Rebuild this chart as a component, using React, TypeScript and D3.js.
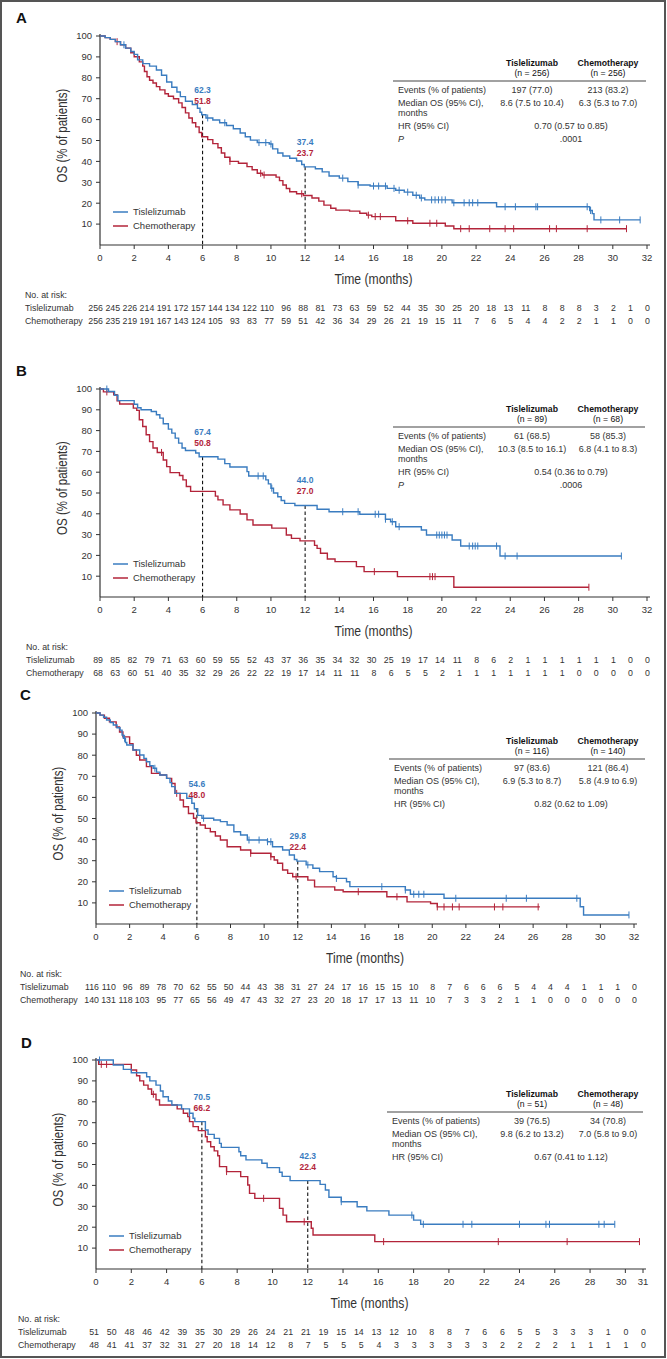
import * as d3 from "d3";

const BLUE = "#3a7cc0";
const RED = "#b3243a";
const FONT = "'Liberation Sans', Arial, sans-serif";

const armNames = ["Tislelizumab", "Chemotherapy"];
const milestoneMonths = [6, 12];

// ---- panel A ----
const stepsA_tis = [[0,100],[0.3,99.2],[0.6,98.4],[0.9,97.3],[1.2,95.8],[1.5,94.2],[1.8,92.6],[2.0,91.2],[2.2,88.6],[2.5,86.8],[2.9,85.6],[3.3,83.7],[3.6,81.2],[3.9,78],[4.2,75.5],[4.5,73.2],[4.7,71],[5.0,68.8],[5.4,67.2],[5.7,65.4],[5.85,63.5],[5.95,62.3],[6.2,60.8],[6.6,59.8],[7.0,58.5],[7.4,57.2],[7.8,55.6],[8.2,53.6],[8.5,51.8],[8.8,50.2],[9.2,49],[9.9,48.3],[10.1,46],[10.4,44],[10.7,42.6],[11.1,41.5],[11.5,40.2],[11.8,38.5],[11.95,37.4],[12.6,36.5],[13.0,35],[13.4,33],[14.0,32],[14.5,30.3],[15.1,28.7],[15.8,28.2],[16.8,27.1],[17.3,26.2],[17.8,25.3],[18.3,23.8],[18.7,22.5],[19.0,21.6],[20.6,20.2],[23.2,18.3],[28.65,16.5],[28.8,15],[28.9,12],[31.6,12]];
const stepsA_chemo = [[0,100],[0.3,99.2],[0.6,98.4],[0.9,97.3],[1.2,95.8],[1.5,94.2],[1.8,92],[2.0,90.1],[2.3,87.6],[2.5,85.6],[2.6,83],[2.75,80.5],[2.9,78.8],[3.1,77.5],[3.3,75.8],[3.5,74.2],[3.8,72.4],[4.0,71.2],[4.3,70],[4.6,68],[4.8,65.8],[5.0,63.2],[5.2,60.8],[5.4,58.5],[5.6,56.5],[5.8,53.8],[5.95,51.8],[6.3,50.4],[6.6,48.5],[6.9,46.5],[7.1,44],[7.3,42],[7.6,40],[8.1,39.1],[8.6,37.5],[8.9,36],[9.2,34.3],[9.5,33.5],[10.3,32.5],[10.5,30.8],[10.7,28.7],[10.9,27],[11.1,25.5],[11.5,24.5],[11.9,23.7],[12.4,22.5],[12.8,21],[13.1,19.1],[13.5,17.6],[13.8,16.7],[14.6,16.2],[15.2,15.2],[15.6,14.3],[15.9,13.6],[17.3,11.6],[18.3,10.4],[20.2,9.1],[20.7,7.8],[30.8,7.8]];
const censorA_tis = [1.4,6.3,7.3,9.3,9.7,10.0,14.2,15.1,16.0,16.3,16.7,17.2,17.5,18.0,18.5,18.8,19.4,19.6,19.8,20.0,20.2,20.7,21.3,21.6,21.8,22.1,23.7,24.3,25.5,25.6,28.5,28.7,29.3,30.4,31.6];
const censorA_chemo = [1.0,7.6,9.4,9.6,11.8,15.7,16.1,16.4,18.0,19.3,19.7,21.1,21.6,22.8,23.7,24.2,26.3,26.7,28.5,30.8];
const milestoneA_tis = [62.3, 37.4];
const milestoneA_chemo = [51.8, 23.7];
const riskA_tis = [256,245,226,214,191,172,157,144,134,122,110,96,88,81,73,63,59,52,44,35,30,25,20,18,13,11,8,8,8,3,2,1,0];
const riskA_chemo = [256,235,219,191,167,143,124,105,93,83,77,59,51,42,36,34,29,26,21,19,15,11,7,6,5,4,4,2,2,1,1,0,0];
const statsA = { n: ["256", "256"], events: ["197 (77.0)", "213 (83.2)"], median: ["8.6 (7.5 to 10.4)", "6.3 (5.3 to 7.0)"], hr: "0.70 (0.57 to 0.85)", p: ".0001" };

// ---- panel B ----
const stepsB_tis = [[0,100],[0.5,98.8],[0.85,97],[1.05,94.4],[2.0,92.7],[2.2,91],[2.4,90],[3.0,89.2],[3.3,87.6],[3.5,86],[3.7,83.3],[4.0,80.7],[4.2,78.8],[4.4,76.4],[4.6,74],[4.8,71.6],[5.0,70.4],[5.6,69.2],[5.8,67.4],[6.9,66.3],[7.3,64.1],[7.6,62.5],[8.6,60.3],[8.7,58.2],[9.7,56.3],[9.85,54.4],[10.0,52.3],[10.15,50],[10.4,48.2],[10.6,46.4],[10.8,45],[11.4,44.0],[12.7,42.2],[13.4,41],[15.2,39.8],[16.7,37.4],[17.0,36.2],[17.3,33.8],[18.8,32.2],[19.1,29.8],[20.6,27.4],[21.1,24.5],[23.4,19.7],[30.5,19.7]];
const stepsB_chemo = [[0,100],[0.2,98.6],[0.8,97.2],[1.0,94.3],[1.15,92.8],[1.95,90.8],[2.15,89.7],[2.3,85.2],[2.5,82],[2.7,78],[2.9,74.7],[3.1,71.6],[3.35,69.5],[3.7,65.9],[3.9,62.7],[4.1,59.8],[4.65,58.4],[4.85,56.3],[5.05,53.1],[5.3,50.8],[6.75,48.5],[6.9,46.7],[7.2,44.3],[7.6,41.9],[8.2,39.9],[8.6,37.1],[8.95,34.6],[10.05,33.1],[10.9,29.8],[11.2,28.2],[11.7,27],[12.55,24.8],[12.7,23.4],[12.9,21],[13.3,18.3],[13.75,17],[15.0,14.6],[15.45,12.2],[17.4,9.8],[20.7,4.7],[28.6,4.7]];
const censorB_tis = [0.4,9.25,9.55,10.05,14.2,15.1,16.1,16.3,16.7,17.1,17.5,19.7,19.85,20.0,20.15,20.3,21.6,21.8,21.95,22.1,23.2,23.7,24.4,30.5];
const censorB_chemo = [0.4,3.6,16.05,19.3,19.45,19.6,28.6];
const milestoneB_tis = [67.4, 44.0];
const milestoneB_chemo = [50.8, 27.0];
const riskB_tis = [89,85,82,79,71,63,60,59,55,52,43,37,36,35,34,32,30,25,19,17,14,11,8,6,2,1,1,1,1,1,1,0,0];
const riskB_chemo = [68,63,60,51,40,35,32,29,26,22,22,19,17,14,11,11,8,6,5,5,2,1,1,1,1,1,1,1,0,0,0,0,0];
const statsB = { n: ["89", "68"], events: ["61 (68.5)", "58 (85.3)"], median: ["10.3 (8.5 to 16.1)", "6.8 (4.1 to 8.3)"], hr: "0.54 (0.36 to 0.79)", p: ".0006" };

// ---- panel C ----
const stepsC_tis = [[0,100],[0.24,99],[0.45,98],[0.63,96.7],[0.85,95.5],[1.03,94.3],[1.25,93],[1.43,91.9],[1.55,89.5],[1.63,88],[1.75,86],[1.83,84.8],[2.2,82.5],[2.6,80.1],[2.85,78.5],[3.0,76.9],[3.2,75],[3.4,73.8],[3.6,72],[3.8,70.6],[4.2,69],[4.4,67],[4.5,65.1],[4.7,61.9],[5.4,59.6],[5.7,57.2],[5.85,54.6],[6.05,51.5],[6.3,50.1],[7.0,49.3],[7.4,48.5],[7.8,46.9],[8.2,43.7],[8.6,42.2],[9.0,39.8],[10.2,39],[10.5,36.6],[11.1,35.1],[11.5,32.7],[11.8,30.6],[11.95,29.8],[12.5,28],[12.9,26.4],[13.3,24.8],[14.1,22.4],[14.3,21.6],[14.9,20],[15.1,17.7],[18.4,16.1],[18.7,14.1],[20.7,12.2],[28.8,8.2],[29.0,4.3],[31.7,4.3]];
const stepsC_chemo = [[0,100],[0.24,99],[0.5,97.5],[0.8,95.8],[1.2,93.4],[1.4,91],[1.6,88.7],[2.0,85.5],[2.2,82.5],[2.4,80],[2.6,77.7],[3.0,74.6],[3.3,71.4],[3.8,70.6],[4.2,69],[4.5,66.6],[4.7,61.9],[5.0,58.8],[5.2,55.6],[5.5,52.4],[5.8,50.1],[5.95,48],[6.2,46.9],[6.5,45.3],[6.8,43.7],[7.1,41.7],[7.4,39.8],[7.8,36.6],[8.6,35.1],[9.2,33.5],[10.4,31.9],[10.6,30.3],[10.8,28.8],[11.1,25.6],[11.4,24],[11.7,22.4],[12.6,20.8],[13.0,17.6],[14.2,16.1],[14.7,15.3],[17.3,12.9],[18.5,10.5],[19.9,9.7],[20.3,8.1],[26.4,8.1]];
const censorC_tis = [1.7,3.5,6.4,9.1,9.7,10.2,10.4,12.6,14.3,17.0,18.4,18.9,19.2,19.5,21.4,24.4,25.6,28.6,31.7];
const censorC_chemo = [4.8,9.2,10.4,11.9,15.6,17.9,20.3,20.7,21.2,21.6,23.7,24.2,26.3];
const milestoneC_tis = [54.6, 29.8];
const milestoneC_chemo = [48.0, 22.4];
const riskC_tis = [116,110,96,89,78,70,62,55,50,44,43,38,31,27,24,17,16,15,15,10,8,7,6,6,6,5,4,4,4,1,1,1,0];
const riskC_chemo = [140,131,118,103,95,77,65,56,49,47,43,32,27,23,20,18,17,17,13,11,10,7,3,3,2,1,1,0,0,0,0,0,0];
const statsC = { n: ["116", "140"], events: ["97 (83.6)", "121 (86.4)"], median: ["6.9 (5.3 to 8.7)", "5.8 (4.9 to 6.9)"], hr: "0.82 (0.62 to 1.09)", p: null };

// ---- panel D ----
const stepsD_tis = [[0,100],[0.98,97.6],[1.55,95.5],[2.0,93.9],[2.87,92],[3.05,90],[3.4,88],[3.65,85.2],[3.8,82.4],[4.1,80.4],[4.3,78.5],[4.85,76.6],[5.3,74.5],[5.5,72.1],[5.6,70.5],[6.2,66.5],[6.35,64.4],[6.7,62.5],[7.0,60.1],[7.1,58.2],[8.1,56.1],[8.2,54.2],[8.5,52.2],[9.4,50.6],[9.7,48.5],[10.4,46.3],[10.55,44.3],[11.0,42.3],[12.7,40.5],[13.0,37.8],[13.2,34.3],[13.9,32.2],[14.8,29.8],[15.35,27.8],[16.6,25.8],[18.0,23.4],[18.4,21.4],[29.4,21.4]];
const stepsD_chemo = [[0,100],[0.15,97.9],[2.0,95.2],[2.3,92.5],[2.48,90],[2.7,88],[2.95,86.1],[3.15,83.6],[3.4,80.9],[3.6,78.5],[4.6,76.6],[4.95,74.5],[5.2,72.9],[5.3,70.5],[5.5,68.1],[5.8,66.2],[6.2,63.3],[6.3,60.9],[6.5,58.5],[6.7,56.5],[6.9,54.2],[7.0,49],[7.4,46.6],[8.2,44.2],[8.6,40.2],[8.7,36.2],[9.0,33.8],[10.4,29],[10.6,25.8],[10.8,22.6],[12.2,19.5],[12.3,16.3],[15.8,13.1],[30.8,13.1]];
const censorD_tis = [0.2,5.3,13.9,17.9,18.55,20.8,21.3,24.0,25.5,25.7,28.5,28.8,29.4];
const censorD_chemo = [0.3,0.6,3.25,7.4,9.5,11.8,16.3,22.8,26.7,30.8];
const milestoneD_tis = [70.5, 42.3];
const milestoneD_chemo = [66.2, 22.4];
const riskD_tis = [51,50,48,46,42,39,35,30,29,26,24,21,21,19,15,14,13,12,10,8,8,7,6,6,5,5,3,3,3,1,0,0];
const riskD_chemo = [48,41,41,37,32,31,27,20,18,14,12,8,7,5,5,5,4,3,3,3,3,3,3,2,2,2,2,1,1,1,1,0];
const statsD = { n: ["51", "48"], events: ["39 (76.5)", "34 (70.8)"], median: ["9.8 (6.2 to 13.2)", "7.0 (5.8 to 9.0)"], hr: "0.67 (0.41 to 1.12)", p: null };

const yTicks = [10, 20, 30, 40, 50, 60, 70, 80, 90, 100];

// layout of each panel on the page
const panels = [
  { letter: "A", lx: 16, ly: 23, x0: 100, x1: 647, xMax: 32, y100: 36, y0: 245, tLine: 81, tx1: 393, tx2: 646, rl: 25,
    steps: [stepsA_tis, stepsA_chemo], censor: [censorA_tis, censorA_chemo], ms: [milestoneA_tis, milestoneA_chemo], risk: [riskA_tis, riskA_chemo], stats: statsA },
  { letter: "B", lx: 16, ly: 376, x0: 100, x1: 647, xMax: 32, y100: 389, y0: 597, tLine: 427, tx1: 393, tx2: 645, rl: 26,
    steps: [stepsB_tis, stepsB_chemo], censor: [censorB_tis, censorB_chemo], ms: [milestoneB_tis, milestoneB_chemo], risk: [riskB_tis, riskB_chemo], stats: statsB },
  { letter: "C", lx: 20, ly: 700, x0: 96, x1: 634, xMax: 32, y100: 713, y0: 924, tLine: 759, tx1: 389, tx2: 645, rl: 20,
    steps: [stepsC_tis, stepsC_chemo], censor: [censorC_tis, censorC_chemo], ms: [milestoneC_tis, milestoneC_chemo], risk: [riskC_tis, riskC_chemo], stats: statsC },
  { letter: "D", lx: 21, ly: 1048, x0: 96, x1: 643, xMax: 31, y100: 1060, y0: 1269, tLine: 1112, tx1: 387, tx2: 643, rl: 18,
    steps: [stepsD_tis, stepsD_chemo], censor: [censorD_tis, censorD_chemo], ms: [milestoneD_tis, milestoneD_chemo], risk: [riskD_tis, riskD_chemo], stats: statsD },
];

const survAt = (steps: number[][], t: number) => {
  let s = 100;
  for (const [tt, v] of steps) {
    if (tt <= t) s = v;
    else break;
  }
  return s;
};

const Panel = ({ p }: { p: any }) => {
  const x = d3.scaleLinear().domain([0, p.xMax]).range([p.x0, p.x1]);
  const y = d3.scaleLinear().domain([0, 100]).range([p.y0, p.y100]);
  const line = d3
    .line<number[]>()
    .x((d) => x(d[0]))
    .y((d) => y(d[1]))
    .curve(d3.curveStepAfter);
  const colors = [BLUE, RED];
  let xTicks = d3.range(0, p.xMax + 1, 2);
  if (p.xMax % 2 === 1) xTicks = [...xTicks, p.xMax];
  const colA = 532;
  const colB = 608;
  const hrX = 571;
  const labX = p.tx1 + 5;
  const L = p.tLine;
  const fs = 9;

  return (
    <g>
      <text x={p.lx} y={p.ly} fontFamily={FONT} fontWeight="bold" fontSize={15} fill="#111">
        {p.letter}
      </text>

      {/* axes */}
      <line x1={p.x0} x2={p.x0} y1={p.y100 - 2} y2={p.y0} stroke="#333" strokeWidth={1.2} />
      <line x1={p.x0} x2={p.x1 + 3} y1={p.y0} y2={p.y0} stroke="#333" strokeWidth={1.2} />
      {yTicks.map((v) => (
        <g key={"y" + v}>
          <line x1={p.x0 - 4} x2={p.x0} y1={y(v)} y2={y(v)} stroke="#333" />
          <text x={p.x0 - 8} y={y(v)} dy="0.35em" textAnchor="end" fontFamily={FONT} fontSize={9.5} fill="#333">
            {v}
          </text>
        </g>
      ))}
      {xTicks.map((v) => (
        <g key={"x" + v}>
          <line x1={x(v)} x2={x(v)} y1={p.y0} y2={p.y0 + 4} stroke="#333" />
          <text
            x={x(v) + (p.xMax % 2 === 1 && v === p.xMax - 1 ? -4 : 0)}
            y={p.y0 + 13}
            dy="0.35em"
            textAnchor="middle"
            fontFamily={FONT}
            fontSize={9.5}
            fill="#333"
          >
            {v}
          </text>
        </g>
      ))}
      <text
        transform={`translate(${(p.x0 + p.x1) / 2},${p.y0 + 34}) scale(0.84,1)`}
        dy="0.35em"
        textAnchor="middle"
        fontFamily={FONT}
        fontSize={14.5}
        fill="#333"
      >
        Time (months)
      </text>
      <text
        transform={`translate(${p.x0 - 38},${(p.y0 + p.y100) / 2 - 5}) rotate(-90) scale(0.82,1)`}
        dy="0.35em"
        textAnchor="middle"
        fontFamily={FONT}
        fontSize={14}
        fill="#333"
      >
        OS (% of patients)
      </text>

      {/* milestone guides */}
      {milestoneMonths.map((m, i) => {
        const top = Math.max(p.ms[0][i], p.ms[1][i]);
        return (
          <g key={"m" + m}>
            <line x1={x(m)} x2={x(m)} y1={y(top)} y2={p.y0} stroke="#111" strokeWidth={1.1} strokeDasharray="3.5,2.5" />
            <text x={x(m)} y={y(p.ms[0][i]) - 25} dy="0.35em" textAnchor="middle" fontFamily={FONT} fontWeight="bold" fontSize={8.5} fill={BLUE}>
              {p.ms[0][i].toFixed(1)}
            </text>
            <text x={x(m)} y={y(p.ms[0][i]) - 14} dy="0.35em" textAnchor="middle" fontFamily={FONT} fontWeight="bold" fontSize={8.5} fill={RED}>
              {p.ms[1][i].toFixed(1)}
            </text>
          </g>
        );
      })}

      {/* curves */}
      {[1, 0].map((k) => (
        <g key={"c" + k}>
          <path d={line(p.steps[k]) || ""} fill="none" stroke={colors[k]} strokeWidth={1.4} />
          {p.censor[k].map((t: number, j: number) => (
            <line key={j} x1={x(t)} x2={x(t)} y1={y(survAt(p.steps[k], t)) - 3.5} y2={y(survAt(p.steps[k], t)) + 3.5} stroke={colors[k]} strokeWidth={1} />
          ))}
        </g>
      ))}

      {/* legend */}
      {armNames.map((nm, k) => (
        <g key={"l" + k}>
          <line x1={p.x0 + 13} x2={p.x0 + 28} y1={p.y0 - 33 + k * 14} y2={p.y0 - 33 + k * 14} stroke={colors[k]} strokeWidth={1.5} />
          <text x={p.x0 + 33} y={p.y0 - 33 + k * 14} dy="0.35em" fontFamily={FONT} fontSize={9.5} fill="#333">
            {nm}
          </text>
        </g>
      ))}

      {/* stats table */}
      <g fontFamily={FONT} fill="#333" fontSize={fs}>
        {armNames.map((nm, k) => (
          <g key={"h" + k}>
            <text x={k ? colB : colA} y={L - 18} dy="0.35em" textAnchor="middle" fontWeight="bold" fontSize={8.7} fill="#111">
              {nm}
            </text>
            <text x={k ? colB : colA} y={L - 8} dy="0.35em" textAnchor="middle" fontSize={8.7} fill="#111">
              (n = {p.stats.n[k]})
            </text>
          </g>
        ))}
        <line x1={p.tx1} x2={p.tx2} y1={L} y2={L} stroke="#444" strokeWidth={1.2} />
        <text x={labX} y={L + 9} dy="0.35em">Events (% of patients)</text>
        <text x={colA} y={L + 9} dy="0.35em" textAnchor="middle">{p.stats.events[0]}</text>
        <text x={colB} y={L + 9} dy="0.35em" textAnchor="middle">{p.stats.events[1]}</text>
        <text x={labX} y={L + 22} dy="0.35em">Median OS (95% CI),</text>
        <text x={labX} y={L + 32} dy="0.35em">months</text>
        <text x={colA} y={L + 22} dy="0.35em" textAnchor="middle">{p.stats.median[0]}</text>
        <text x={colB} y={L + 22} dy="0.35em" textAnchor="middle">{p.stats.median[1]}</text>
        <text x={labX} y={L + 45} dy="0.35em">HR (95% CI)</text>
        <text x={hrX} y={L + 45} dy="0.35em" textAnchor="middle">{p.stats.hr}</text>
        {p.stats.p && (
          <>
            <text x={labX} y={L + 58} dy="0.35em" fontStyle="italic">P</text>
            <text x={hrX} y={L + 58} dy="0.35em" textAnchor="middle">{p.stats.p}</text>
          </>
        )}
      </g>

      {/* number at risk */}
      <g fontFamily={FONT} fontSize={8.8} fill="#333">
        <text x={p.rl} y={p.y0 + 50} dy="0.35em">No. at risk:</text>
        {armNames.map((nm, k) => (
          <g key={"r" + k}>
            <text x={p.rl} y={p.y0 + 63 + k * 13} dy="0.35em">{nm}</text>
            {p.risk[k].map((v: number, i: number) => (
              <text key={i} x={x(i) + 3} y={p.y0 + 63 + k * 13} dy="0.35em" textAnchor="end">
                {v}
              </text>
            ))}
          </g>
        ))}
      </g>
    </g>
  );
};

const App = () => {
  return (
    <div style={{ position: "absolute", left: 0, top: 0 }}>
      <svg width={667} height={1359} style={{ display: "block", background: "#fff" }}>
        <rect x={1} y={1} width={664} height={1356} fill="#fff" stroke="#555" strokeWidth={2} />
        {panels.map((p) => (
          <Panel key={p.letter} p={p} />
        ))}
      </svg>
    </div>
  );
};

export default App;
